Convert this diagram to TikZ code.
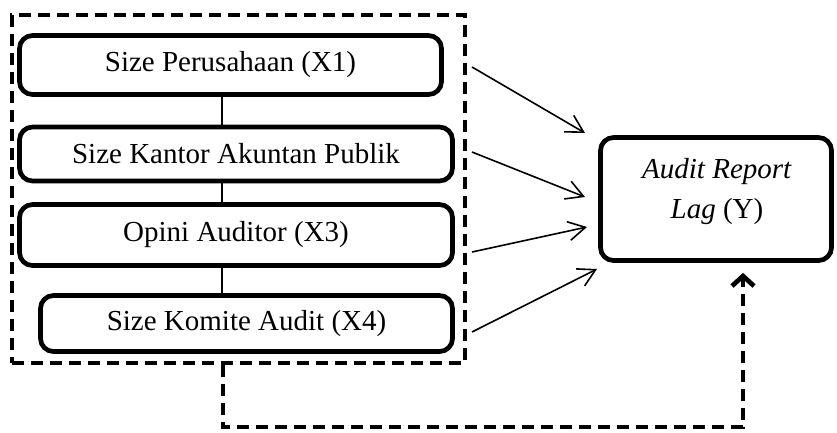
\documentclass[tikz,border=0pt]{standalone}
\usepackage{fontspec}
\setmainfont{Liberation Serif}
\usetikzlibrary{arrows.meta}
\begin{document}
\begin{tikzpicture}[x=1pt,y=-1pt, font=\fontsize{29}{40}\selectfont,
  vbox/.style={draw, line width=4.7pt, rounded corners=13pt, inner sep=0pt, align=center},
  dashbox/.style={draw, line width=4.5pt, dash pattern=on 12pt off 7pt, inner sep=0pt},
  thinline/.style={line width=1.5pt},
  arr/.style={line width=1.6pt, -{Straight Barb[length=17pt,width=19pt]}},
  fb/.style={line width=4.7pt, dash pattern=on 12pt off 7pt, -{Straight Barb[length=10pt,width=22pt]}}]
\useasboundingbox (0,0) rectangle (837,432);
% outer dashed group
\node[dashbox, minimum width=453pt, minimum height=348pt] (outer) at (238.5,189) {};
% variable boxes
\node[vbox, minimum width=422pt, minimum height=59pt] (b1) at (230.5,65) {Size Perusahaan (X1)};
\node[vbox, minimum width=433pt, minimum height=54pt] (b2) at (236,154) {Size Kantor Akuntan Publik};
\node[vbox, minimum width=433pt, minimum height=61pt] (b3) at (236,235) {Opini Auditor (X3)};
\node[vbox, minimum width=412pt, minimum height=56pt] (b4) at (246.5,323.5) {Size Komite Audit (X4)};
% dependent box
\node[vbox, minimum width=231pt, minimum height=123pt] (Y) at (716,199) {};
\node[align=center, inner sep=0pt] (ylab) at (717,192) {\textit{Audit Report}\\\textit{Lag} (Y)};
% links between boxes
\coordinate (cx) at (222,0);
\draw[thinline] (b1.south -| cx) -- (b2.north -| cx);
\draw[thinline] (b2.south -| cx) -- (b3.north -| cx);
\draw[thinline] (b3.south -| cx) -- (b4.north -| cx);
% arrows to Y
\coordinate (s1) at (472,67);
\coordinate (s2) at (472,152);
\coordinate (s3) at (472,252);
\coordinate (s4) at (472,332);
\coordinate (e1) at (585,133);
\coordinate (e2) at (585,197);
\coordinate (e3) at (587,227);
\coordinate (e4) at (597,269);
\draw[arr] (s1) -- (e1);
\draw[arr] (s2) -- (e2);
\draw[arr] (s3) -- (e3);
\draw[arr] (s4) -- (e4);
% feedback dashed arrow
\coordinate (f1) at (223,427);
\coordinate (f2) at (743,427);
\draw[fb, shorten >=10pt] (outer.south -| f1) -- (f1) -- (f2) -- (Y.south -| f2);
\end{tikzpicture}
\end{document}
